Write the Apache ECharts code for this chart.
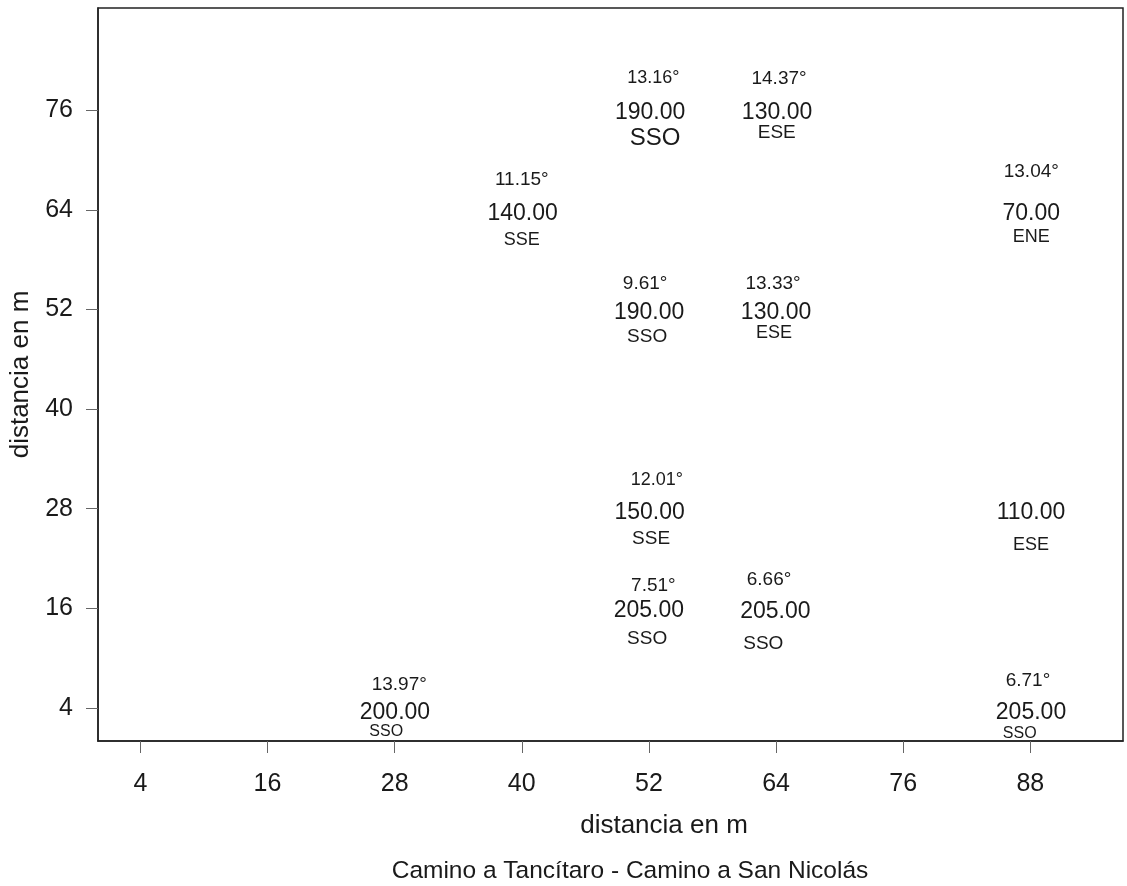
<!DOCTYPE html>
<html>
<head>
<meta charset="utf-8">
<script src="https://cdn.jsdelivr.net/npm/echarts@6.0.0/dist/echarts.min.js"></script>
<style>
html, body { margin: 0; padding: 0; background: #ffffff; }
#chart { width: 1127px; height: 886px; }
</style>
</head>
<body>
<div id="chart"></div>
<script>
// ---------- data ----------
const xTicks = [4, 16, 28, 40, 52, 64, 76, 88];
const yTicks = [4, 16, 28, 40, 52, 64, 76];
const pointX = [52, 64, 40, 88, 52, 64, 52, 88, 52, 64, 28, 88];
const pointY = [76, 76, 64, 64, 52, 52, 28, 28, 16, 16, 4, 4];
const distances = [190, 130, 140, 70, 190, 130, 150, 110, 205, 205, 200, 205];
const angles = [13.16, 14.37, 11.15, 13.04, 9.61, 13.33, 12.01, null, 7.51, 6.66, 13.97, 6.71];
const directions = ['SSO', 'ESE', 'SSE', 'ENE', 'SSO', 'ESE', 'SSE', 'ESE', 'SSO', 'SSO', 'SSO', 'SSO'];
const chartTitle = 'Camino a Tancítaro - Camino a San Nicolás';
const axisTitle = 'distancia en m';

// ---------- label layout (pixel offsets from each point, font sizes) ----------
const angleOffsets = [[4.5,-32.8],[3,-31.8],[0,-30.1],[1,-38],[-3.8,-25.7],[-3,-25.7],[7.9,-28.6],null,[4.5,-22.2],[-7,-28.2],[4.6,-23],[-2.3,-26.6]];
const angleSizes = [18,19,19,19,19,19,18,null,19,19,19,19];
const valueOffsets = [[1.2,2.7],[1,2.7],[0.9,3.2],[1,3.5],[0.2,3.1],[0,3.1],[0.7,4.1],[0.7,3.9],[-0.1,2.8],[-0.7,3.1],[0.3,5],[0.7,4.7]];
const valueSizes = [23,23,23,23,23,23,23,23,23,23,23,23];
const dirOffsets = [[6.2,28.2],[0.7,22.6],[0,30.5],[1,27],[-1.8,27.6],[-2,23.6],[2.2,30.3],[0.7,36.4],[-1.8,31],[-12.7,36],[-8.4,23.4],[-10.6,26.2]];
const dirSizes = [24,19,18,18,19,18,19,18,19,19,16,16];

const FONT = '"Liberation Sans", Arial, Helvetica, sans-serif';
const TXT = '#1a1a1a';

const angleTexts = angles.map(a => a == null ? null : a.toFixed(2) + '°');
const valueTexts = distances.map(d => d.toFixed(2));

function buildSeries(name, texts, offsets, sizes) {
  const data = [];
  for (let i = 0; i < pointX.length; i++) {
    if (texts[i] == null) continue;
    data.push({
      value: [pointX[i], pointY[i]],
      name: texts[i],
      label: { offset: offsets[i], fontSize: sizes[i] }
    });
  }
  return {
    type: 'scatter',
    name: name,
    data: data,
    symbol: 'circle',
    symbolSize: 1,
    itemStyle: { color: 'rgba(255,255,255,0)' },
    silent: true,
    emphasis: { disabled: true },
    label: {
      show: true,
      position: ['50%', '50%'],
      formatter: p => p.name,
      color: TXT,
      opacity: 1,
      textBorderWidth: 0,
      fontFamily: FONT,
      align: 'center',
      verticalAlign: 'middle'
    }
  };
}

const chart = echarts.init(document.getElementById('chart'), null, { renderer: 'canvas' });
chart.setOption({
  animation: false,
  backgroundColor: '#ffffff',
  title: {
    text: chartTitle,
    left: 625,
    top: 854,
    textAlign: 'center',
    textStyle: { fontSize: 24.5, fontWeight: 'normal', color: TXT, fontFamily: FONT }
  },
  grid: {
    left: 98, right: 4, top: 8, bottom: 145,
    show: true, borderColor: '#222', borderWidth: 1.5,
    outerBoundsMode: 'none'
  },
  xAxis: {
    type: 'value',
    min: 0, max: 96.75,
    name: axisTitle,
    nameLocation: 'middle',
    nameGap: 72,
    nameTextStyle: { fontSize: 26, color: TXT, fontFamily: FONT, padding: [0, 0, 0, 107] },
    axisLine: { show: true, onZero: false, lineStyle: { color: '#222', width: 1.5 } },
    axisTick: { show: true, inside: false, length: 12, customValues: xTicks, lineStyle: { color: '#666', width: 1 } },
    axisLabel: { customValues: xTicks, margin: 31, fontSize: 25, color: TXT, fontFamily: FONT },
    splitLine: { show: false }
  },
  yAxis: {
    type: 'value',
    min: 0, max: 88.34,
    name: axisTitle,
    nameLocation: 'middle',
    nameGap: 60,
    nameTextStyle: { fontSize: 26, color: TXT, fontFamily: FONT },
    axisLine: { show: true, onZero: false, lineStyle: { color: '#222', width: 1.5 } },
    axisTick: { show: true, inside: false, length: 12, customValues: yTicks, lineStyle: { color: '#666', width: 1 } },
    axisLabel: { customValues: yTicks, margin: 25, fontSize: 25, color: TXT, fontFamily: FONT, padding: [4, 0, 0, 0] },
    splitLine: { show: false }
  },
  series: [
    buildSeries('ángulo', angleTexts, angleOffsets, angleSizes),
    buildSeries('distancia', valueTexts, valueOffsets, valueSizes),
    buildSeries('dirección', directions, dirOffsets, dirSizes)
  ]
});
</script>
</body>
</html>
